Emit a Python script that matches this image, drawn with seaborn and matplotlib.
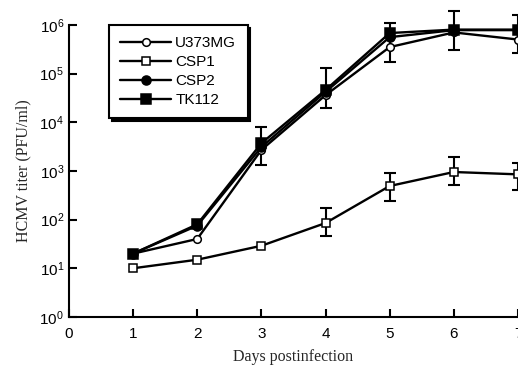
import matplotlib
matplotlib.use("Agg")
import matplotlib.pyplot as plt
import seaborn as sns
import numpy as np
import pandas as pd

days = [1, 2, 3, 4, 5, 6, 7]
u373mg = [20, 40, 2700, 36000, 350000, 700000, 500000]
csp1 = [10, 15, 29, 85, 490, 950, 850]
csp2 = [20, 75, 3100, 42000, 560000, 780000, 780000]
tk112 = [20, 80, 3700, 46000, 680000, 800000, 800000]

err_days_top = [3, 4, 5, 6, 7]
err_top_center = [3100, 42000, 560000, 780000, 780000]
err_top_low = [1300, 19500, 173000, 300000, 265000]
err_top_high = [8000, 130000, 1100000, 1900000, 1600000]

err_days_csp1 = [4, 5, 6, 7]
err_csp1_center = [85, 490, 950, 850]
err_csp1_low = [46, 240, 510, 400]
err_csp1_high = [173, 900, 1950, 1450]

series_names = ["U373MG", "CSP1", "CSP2", "TK112"]
series_values = [u373mg, csp1, csp2, tk112]

sns.set_style("ticks")
plt.rcParams["font.family"] = ["Liberation Sans", "DejaVu Sans"]
plt.rcParams["mathtext.fontset"] = "custom"
plt.rcParams["mathtext.rm"] = "Liberation Sans"
plt.rcParams["mathtext.default"] = "regular"

df = pd.DataFrame({
    "day": days * 4,
    "titer": sum(series_values, []),
    "line": sum([[n] * len(days) for n in series_names], []),
})

fig = plt.figure(figsize=(5.18, 3.66), dpi=100)
ax = fig.add_axes([0.133, 0.134, 0.867, 0.798])

styles = {
    "U373MG": dict(marker="o", mfc="white", ms=5.5),
    "CSP1": dict(marker="s", mfc="white", ms=5.5),
    "CSP2": dict(marker="o", mfc="black", ms=6.5),
    "TK112": dict(marker="s", mfc="black", ms=6.5),
}

for name in series_names:
    sub = df[df["line"] == name]
    st = styles[name]
    sns.lineplot(data=sub, x="day", y="titer", ax=ax, color="black",
                 linewidth=1.7, marker=st["marker"], markersize=st["ms"],
                 markerfacecolor=st["mfc"], markeredgecolor="black",
                 markeredgewidth=1.1, label=name, clip_on=False, zorder=3)

yerr_top = [np.array(err_top_center) - np.array(err_top_low),
            np.array(err_top_high) - np.array(err_top_center)]
ax.errorbar(err_days_top, err_top_center, yerr=yerr_top, fmt="none",
            ecolor="black", elinewidth=1.5, capsize=4, capthick=1.5,
            clip_on=False, zorder=2)
yerr_c = [np.array(err_csp1_center) - np.array(err_csp1_low),
          np.array(err_csp1_high) - np.array(err_csp1_center)]
ax.errorbar(err_days_csp1, err_csp1_center, yerr=yerr_c, fmt="none",
            ecolor="black", elinewidth=1.5, capsize=4, capthick=1.5,
            clip_on=False, zorder=2)

ax.set_yscale("log")
ax.set_ylim(1, 1e6)
ax.set_xlim(0, 6.91)
ax.set_xticks([0, 1, 2, 3, 4, 5, 6, 7])
ax.set_xticklabels(["0", "1", "2", "3", "4", "5", "6", "7"])
ax.set_yticks([1e0, 1e1, 1e2, 1e3, 1e4, 1e5, 1e6])
ax.set_yticklabels([r"$10^{0}$", r"$10^{1}$", r"$10^{2}$", r"$10^{3}$",
                    r"$10^{4}$", r"$10^{5}$", r"$10^{6}$"])
ax.yaxis.set_minor_locator(matplotlib.ticker.NullLocator())
ax.tick_params(axis="both", direction="in", length=6, width=1.5,
               labelsize=11, colors="black")
ax.tick_params(axis="x", pad=7)
for lab in ax.get_xticklabels():
    lab.set_clip_on(False)
for s in ["top", "right"]:
    ax.spines[s].set_visible(False)
for s in ["left", "bottom"]:
    ax.spines[s].set_linewidth(1.5)
    ax.spines[s].set_color("black")

ax.set_xlabel("Days postinfection", family=["Liberation Serif"],
              fontsize=11.5, labelpad=6)
ax.set_ylabel("HCMV titer (PFU/ml)", family=["Liberation Serif"],
              fontsize=11.5, labelpad=6)

leg = ax.legend(loc="upper left", bbox_to_anchor=(0.089, 1.0),
                borderaxespad=0, frameon=True, fancybox=False,
                shadow={"color": "black", "alpha": 1},
                handlelength=3.3, handletextpad=0.3, labelspacing=0.32,
                fontsize=11, borderpad=0.75)
leg.get_frame().set_edgecolor("black")
leg.get_frame().set_linewidth(1.5)
leg.get_frame().set_alpha(1)
for t in leg.get_texts():
    t.set_color("black")

fig.savefig("out.png", dpi=100)
